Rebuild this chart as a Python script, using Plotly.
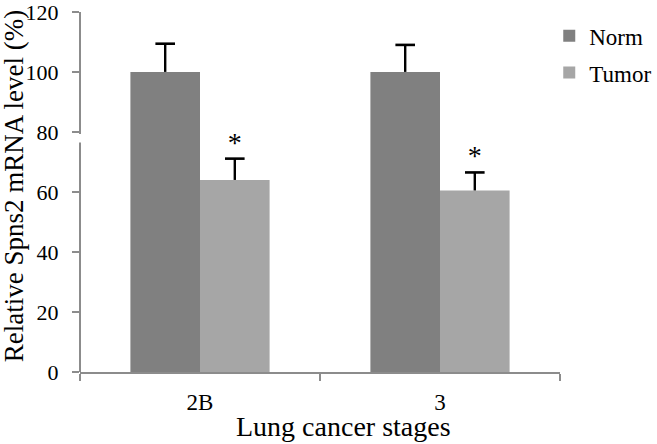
import plotly.graph_objects as go

stages = ["2B", "3"]
norm = [100, 100]
norm_err = [9.4, 9.0]
tumor = [64, 60.5]
tumor_err = [7.1, 6.0]
signif = ["", ""]
tumor_signif = ["*", "*"]

font = "Liberation Serif"
axis_grey = "#8c8c8c"

fig = go.Figure()


def add_series(name, vals, errs, color, stars):
    # bar with a one-sided error line (no caps), caps drawn by a marker trace
    fig.add_trace(go.Bar(x=stages, y=vals, name=name, marker_color=color, marker_line_width=0,
                         offsetgroup=name, legendgroup=name,
                         error_y=dict(type="data", array=errs, arrayminus=[0] * len(errs),
                                      symmetric=False, color="black", thickness=2.4, width=0)))
    tops = [v + e for v, e in zip(vals, errs)]
    fig.add_trace(go.Scatter(x=stages, y=tops, mode="markers", offsetgroup=name,
                             legendgroup=name, showlegend=False, hoverinfo="skip",
                             marker=dict(symbol="line-ew-open", size=14, color="black",
                                         line=dict(width=2.6, color="black"))))
    fig.add_trace(go.Scatter(x=stages, y=tops, mode="text", offsetgroup=name,
                             legendgroup=name, showlegend=False, hoverinfo="skip",
                             marker=dict(size=1), text=stars, textposition="top center",
                             textfont=dict(family=font, size=28, color="black")))


add_series("Norm", norm, norm_err, "#808080", signif)
add_series("Tumor", tumor, tumor_err, "#a6a6a6", tumor_signif)

# y axis drawn by hand, with a small break just under 80
fig.add_shape(type="line", xref="paper", yref="y", x0=0, x1=0, y0=0, y1=76.5,
              line=dict(color=axis_grey, width=2))
fig.add_shape(type="line", xref="paper", yref="y", x0=0, x1=0, y0=79.3, y1=120,
              line=dict(color=axis_grey, width=2))

# axis titles as annotations so they can sit where the original has them
fig.add_annotation(text="Lung cancer stages", xref="paper", yref="paper", x=0.548, y=-0.15,
                   xanchor="center", yanchor="middle", showarrow=False,
                   font=dict(family=font, size=28, color="black"))
fig.add_annotation(text="Relative Spns2 mRNA level (%)", xref="paper", yref="paper",
                   x=-0.137, y=0.515, textangle=-90, xanchor="center", yanchor="middle",
                   showarrow=False, font=dict(family=font, size=27, color="black"))

fig.update_layout(
    width=657, height=444,
    margin=dict(l=80, r=97, t=11, b=72, autoexpand=False),
    plot_bgcolor="white", paper_bgcolor="white",
    barmode="group", bargap=0.42, bargroupgap=0,
    scattermode="group", scattergap=0.42,
    font=dict(family=font, color="black"),
    legend=dict(xref="container", yref="container", x=0.836, y=0.968,
                xanchor="left", yanchor="top", traceorder="grouped",
                font=dict(family=font, size=23), tracegroupgap=4,
                bgcolor="rgba(0,0,0,0)"),
    xaxis=dict(type="category", range=[-0.5, 1.5], showline=True, linecolor=axis_grey,
               linewidth=2, ticks="outside", tickson="boundaries", ticklen=7,
               tickcolor=axis_grey, tickwidth=2, tickfont=dict(size=23, family=font),
               automargin=False, ticklabelstandoff=8),
    yaxis=dict(range=[0, 120.3], tickvals=[0, 20, 40, 60, 80, 100, 120], showgrid=False,
               zeroline=False, showline=False, automargin=False, ticklabeloverflow="allow",
               ticks="outside", ticklen=7, tickcolor=axis_grey, tickwidth=2,
               ticklabelstandoff=9, tickfont=dict(size=22, family=font)),
)

# drop the browser's default body margin so the figure fills the window
fig.write_html("out.html", config={"displayModeBar": False},
               post_script="document.body.style.margin = '0px';")
